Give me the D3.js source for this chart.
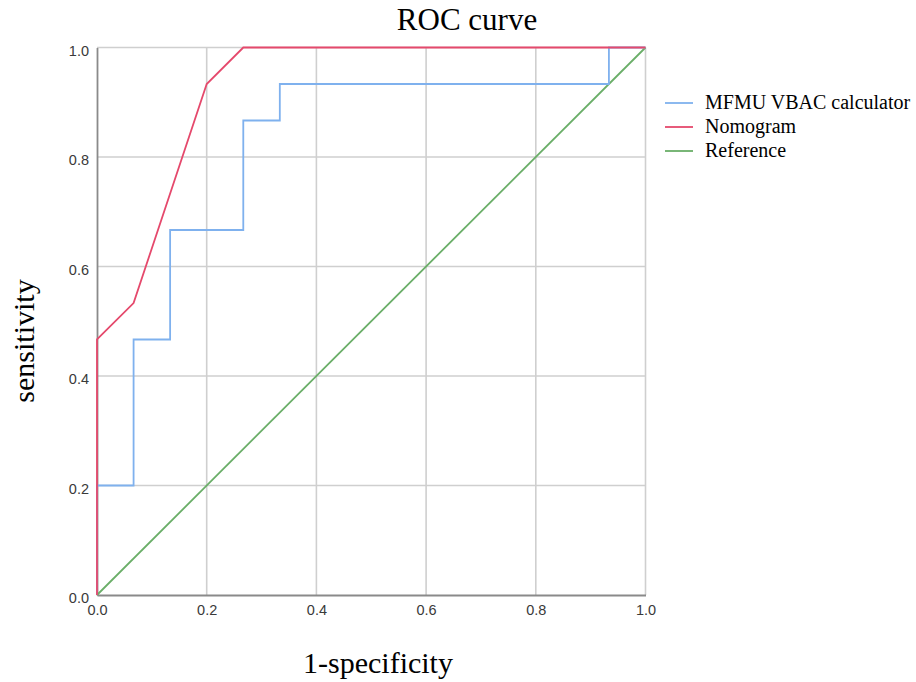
<!DOCTYPE html>
<html><head><meta charset="utf-8">
<script src="https://cdn.jsdelivr.net/npm/d3@7"></script>
<style>body{margin:0;background:#fff}svg{display:block}</style>
</head><body>
<svg id="c" width="916" height="682"></svg>
<script>
const ticks = [0, 0.2, 0.4, 0.6, 0.8, 1.0];
const mfmuX = [0, 0, 0.0667, 0.0667, 0.1333, 0.1333, 0.2667, 0.2667, 0.3333, 0.3333, 0.9333, 0.9333, 1];
const mfmuY = [0, 0.2, 0.2, 0.4667, 0.4667, 0.6667, 0.6667, 0.8667, 0.8667, 0.9333, 0.9333, 1, 1];
const nomoX = [0, 0, 0.0667, 0.2, 0.2667, 1];
const nomoY = [0, 0.4667, 0.5333, 0.9333, 1, 1];
const refX = [0, 1];
const refY = [0, 1];
const seriesNames = ["MFMU VBAC calculator", "Nomogram", "Reference"];
const seriesColors = ["#7fb1ee", "#e5496c", "#6aae68"];

const svg = d3.select("#c");
const x = d3.scaleLinear().domain([0, 1]).range([97, 645.5]);
const y = d3.scaleLinear().domain([0, 1]).range([595, 47.5]);

// grid
svg.append("g").selectAll("line").data(ticks.slice(1)).join("line")
  .attr("x1", d => x(d)).attr("x2", d => x(d)).attr("y1", y(0)).attr("y2", y(1))
  .attr("stroke", "#cfcfcf").attr("stroke-width", 1.6);
svg.append("g").selectAll("line").data(ticks.slice(1)).join("line")
  .attr("y1", d => y(d)).attr("y2", d => y(d)).attr("x1", x(0)).attr("x2", x(1))
  .attr("stroke", "#cfcfcf").attr("stroke-width", 1.6);

// axes
const xAxis = d3.axisBottom(x).tickValues(ticks).tickFormat(d3.format(".1f")).tickSize(0).tickPadding(6);
const yAxis = d3.axisLeft(y).tickValues(ticks).tickFormat(d3.format(".1f")).tickSize(0).tickPadding(8);
const gx = svg.append("g").attr("transform", `translate(0,${y(0)})`).call(xAxis);
const gy = svg.append("g").attr("transform", `translate(${x(0)},0)`).call(yAxis);
[gx, gy].forEach(g => {
  g.select(".domain").attr("stroke", "#8a8a8a").attr("stroke-width", 1.8);
  g.selectAll("text").attr("font-family", "Liberation Sans, Arial, sans-serif").attr("font-size", 14.5).attr("fill", "#3a3a3a");
});
gx.selectAll("text").attr("dy", "0.95em");
gy.selectAll("text").attr("dy", "0.55em");

const line = d3.line().x(d => x(d[0])).y(d => y(d[1]));
const series = [
  d3.zip(mfmuX, mfmuY),
  d3.zip(nomoX, nomoY),
  d3.zip(refX, refY)
];
[2, 0, 1].forEach(i => {
  svg.append("path").datum(series[i]).attr("d", line)
    .attr("fill", "none").attr("stroke", seriesColors[i]).attr("stroke-width", 1.8);
});

// title & axis labels
const serif = "Liberation Serif, Times New Roman, serif";
svg.append("text").attr("x", 467).attr("y", 30).attr("text-anchor", "middle")
  .attr("font-family", serif).attr("font-size", 31).attr("fill", "#000").text("ROC curve");
svg.append("text").attr("x", 378).attr("y", 673).attr("text-anchor", "middle")
  .attr("font-family", serif).attr("font-size", 30).attr("fill", "#000").text("1-specificity");
svg.append("text").attr("transform", "translate(34,341) rotate(-90)").attr("text-anchor", "middle")
  .attr("font-family", serif).attr("font-size", 30).attr("fill", "#000").text("sensitivity");

// legend
const lg = svg.append("g").attr("transform", "translate(665,103)");
seriesNames.forEach((n, i) => {
  const row = lg.append("g").attr("transform", `translate(0,${i * 24})`);
  row.append("line").attr("x1", 0).attr("x2", 28).attr("y1", 0).attr("y2", 0)
    .attr("stroke", seriesColors[i]).attr("stroke-width", 1.8);
  row.append("text").attr("x", 40).attr("y", 6).attr("font-family", serif)
    .attr("font-size", 20).attr("fill", "#000").text(n);
});
</script>
</body></html>
